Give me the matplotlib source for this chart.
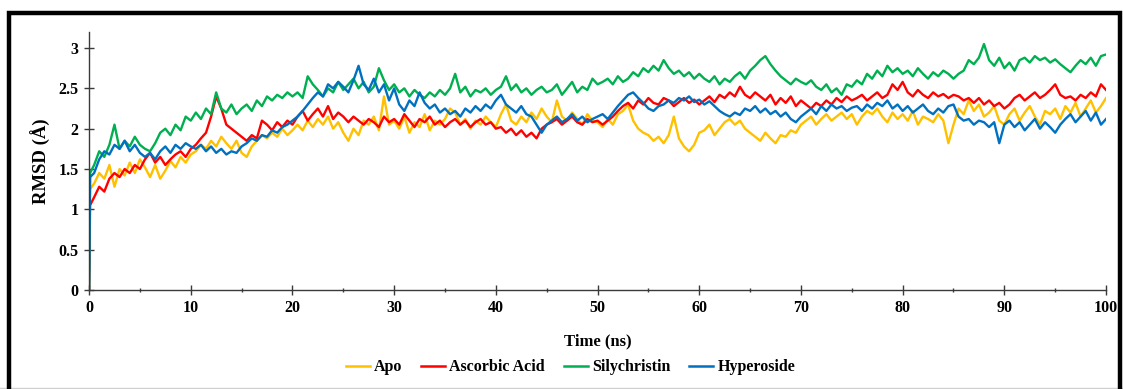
import numpy as np
import matplotlib
matplotlib.use("Agg")
from matplotlib import pyplot as plt
from matplotlib.patches import Rectangle
from matplotlib.lines import Line2D
from matplotlib.ticker import MultipleLocator

plt.rcParams['font.family'] = ['Liberation Serif', 'DejaVu Serif']
plt.rcParams['font.weight'] = 'bold'

# time axis (ns): start, first frame, then every 0.5 ns
time_ns = np.concatenate(([0.0, 0.1], np.arange(0.5, 100.01, 0.5)))

# RMSD values (A)
apo = [0.0, 1.25,
       1.32, 1.45, 1.38, 1.55, 1.28, 1.50, 1.42, 1.58, 1.45, 1.62,
       1.52, 1.40, 1.55, 1.38, 1.48, 1.60, 1.52, 1.65, 1.58, 1.68,
       1.72, 1.80, 1.75, 1.85, 1.78, 1.90, 1.82, 1.75, 1.85, 1.70,
       1.65, 1.78, 1.85, 1.92, 1.88, 1.95, 1.90, 2.00, 1.92, 1.98,
       2.05, 1.98, 2.10, 2.02, 2.12, 2.05, 2.15, 2.00, 2.08, 1.95,
       1.85, 2.00, 1.92, 2.10, 2.05, 2.15, 1.98, 2.40, 2.05, 2.10,
       2.00, 2.15, 1.95, 2.08, 2.02, 2.18, 1.98, 2.10, 2.05, 2.12,
       2.25, 2.20, 2.05, 2.12, 2.00, 2.10, 2.05, 2.15, 2.08, 2.02,
       2.18, 2.30, 2.10, 2.05, 2.15, 2.08, 2.20, 2.12, 2.25, 2.15,
       2.08, 2.35, 2.15, 2.10, 2.20, 2.12, 2.05, 2.18, 2.10, 2.08,
       2.02, 2.12, 2.05, 2.18, 2.22, 2.30, 2.10, 2.00, 1.95, 1.92,
       1.85, 1.90, 1.82, 1.92, 2.15, 1.88, 1.78, 1.72, 1.80, 1.95,
       1.98, 2.05, 1.92, 2.00, 2.08, 2.12, 2.05, 2.10, 2.00, 1.95,
       1.90, 1.85, 1.95, 1.88, 1.82, 1.92, 1.90, 1.98, 1.95, 2.05,
       2.10, 2.15, 2.05, 2.12, 2.18, 2.10, 2.15, 2.20, 2.12, 2.18,
       2.05, 2.15, 2.22, 2.18, 2.25, 2.15, 2.08, 2.20, 2.12, 2.18,
       2.10, 2.22, 2.05, 2.15, 2.12, 2.08, 2.18, 2.10, 1.82, 2.05,
       2.25, 2.18, 2.35, 2.22, 2.30, 2.15, 2.20, 2.28, 2.10, 2.05,
       2.18, 2.25, 2.10, 2.20, 2.28, 2.15, 2.05, 2.22, 2.18, 2.25,
       2.12, 2.28, 2.20, 2.32, 2.15, 2.25, 2.35, 2.20, 2.28, 2.38]

ascorbic = [0.0, 1.05,
            1.15, 1.28, 1.22, 1.38, 1.45, 1.40, 1.50, 1.45, 1.55, 1.50,
            1.62, 1.70, 1.58, 1.65, 1.55, 1.62, 1.68, 1.72, 1.65, 1.75,
            1.80, 1.88, 1.95, 2.15, 2.40, 2.25, 2.05, 2.00, 1.95, 1.90,
            1.85, 1.92, 1.88, 2.10, 2.05, 1.98, 2.08, 2.02, 2.10, 2.05,
            2.15, 2.22, 2.10, 2.18, 2.25, 2.15, 2.28, 2.12, 2.20, 2.15,
            2.08, 2.15, 2.10, 2.05, 2.12, 2.08, 2.02, 2.15, 2.08, 2.12,
            2.05, 2.18, 2.10, 2.02, 2.12, 2.08, 2.15, 2.05, 2.10, 2.02,
            2.08, 2.12, 2.05, 2.10, 2.02, 2.08, 2.12, 2.05, 2.08, 2.00,
            2.02, 1.95, 2.00, 1.92, 1.98, 1.90, 1.95, 1.88, 2.00, 2.05,
            2.08, 2.12, 2.05, 2.10, 2.15, 2.08, 2.05, 2.12, 2.08, 2.10,
            2.05, 2.10, 2.15, 2.22, 2.28, 2.32, 2.25, 2.35, 2.30, 2.38,
            2.32, 2.30, 2.38, 2.35, 2.28, 2.33, 2.38, 2.32, 2.36, 2.30,
            2.35, 2.40, 2.33, 2.42, 2.38, 2.45, 2.40, 2.52, 2.42, 2.38,
            2.45, 2.40, 2.35, 2.42, 2.30, 2.38, 2.32, 2.40, 2.28, 2.35,
            2.30, 2.25, 2.32, 2.28, 2.35, 2.30, 2.38, 2.33, 2.40, 2.35,
            2.38, 2.42, 2.35, 2.40, 2.45, 2.38, 2.42, 2.55, 2.48, 2.58,
            2.45, 2.40, 2.48, 2.42, 2.38, 2.45, 2.40, 2.43, 2.38, 2.42,
            2.40, 2.35, 2.38, 2.32, 2.38, 2.30, 2.35, 2.28, 2.32, 2.25,
            2.30, 2.38, 2.42, 2.35, 2.40, 2.45, 2.38, 2.42, 2.48, 2.55,
            2.42, 2.38, 2.40, 2.35, 2.42, 2.38, 2.45, 2.40, 2.55, 2.48]

silychristin = [0.0, 1.45,
                1.55, 1.72, 1.65, 1.80, 2.05, 1.75, 1.85, 1.78, 1.90, 1.80,
                1.75, 1.72, 1.82, 1.95, 2.00, 1.92, 2.05, 1.98, 2.15, 2.10,
                2.20, 2.12, 2.25, 2.18, 2.45, 2.25, 2.20, 2.30, 2.18, 2.25,
                2.30, 2.22, 2.35, 2.28, 2.40, 2.35, 2.42, 2.38, 2.45, 2.40,
                2.45, 2.38, 2.65, 2.55, 2.48, 2.40, 2.50, 2.45, 2.58, 2.48,
                2.55, 2.62, 2.50, 2.58, 2.45, 2.52, 2.75, 2.60, 2.48, 2.55,
                2.45, 2.50, 2.40, 2.48, 2.42, 2.38, 2.45, 2.40, 2.48, 2.42,
                2.50, 2.68, 2.45, 2.52, 2.40, 2.48, 2.45, 2.50, 2.42, 2.48,
                2.52, 2.65, 2.48, 2.55, 2.45, 2.50, 2.42, 2.48, 2.52, 2.45,
                2.48, 2.55, 2.42, 2.50, 2.58, 2.45, 2.52, 2.48, 2.62, 2.55,
                2.58, 2.62, 2.55, 2.65, 2.58, 2.62, 2.70, 2.65, 2.75, 2.70,
                2.78, 2.72, 2.85, 2.75, 2.68, 2.72, 2.65, 2.70, 2.62, 2.68,
                2.62, 2.58, 2.65, 2.55, 2.62, 2.58, 2.65, 2.70, 2.62, 2.72,
                2.78, 2.85, 2.90, 2.80, 2.72, 2.65, 2.60, 2.55, 2.62, 2.58,
                2.55, 2.60, 2.52, 2.48, 2.55, 2.45, 2.50, 2.42, 2.55, 2.52,
                2.60, 2.55, 2.68, 2.62, 2.72, 2.65, 2.78, 2.70, 2.75, 2.68,
                2.72, 2.65, 2.75, 2.68, 2.62, 2.70, 2.65, 2.72, 2.68, 2.62,
                2.68, 2.72, 2.85, 2.80, 2.88, 3.05, 2.85, 2.78, 2.88, 2.75,
                2.82, 2.72, 2.85, 2.88, 2.82, 2.90, 2.85, 2.88, 2.82, 2.86,
                2.80, 2.75, 2.70, 2.78, 2.85, 2.80, 2.88, 2.78, 2.90, 2.92]

hyperoside = [0.0, 1.40,
              1.45, 1.62, 1.72, 1.68, 1.80, 1.75, 1.85, 1.72, 1.80, 1.70,
              1.65, 1.70, 1.62, 1.72, 1.78, 1.70, 1.80, 1.75, 1.82, 1.78,
              1.75, 1.80, 1.72, 1.78, 1.70, 1.75, 1.68, 1.72, 1.70, 1.78,
              1.82, 1.88, 1.85, 1.92, 1.90, 1.98, 1.95, 2.02, 2.05, 2.10,
              2.15, 2.22, 2.30, 2.38, 2.45, 2.40, 2.55, 2.50, 2.58, 2.52,
              2.45, 2.60, 2.78, 2.55, 2.48, 2.62, 2.45, 2.55, 2.35, 2.50,
              2.30, 2.22, 2.35, 2.28, 2.45, 2.32, 2.25, 2.30, 2.20, 2.25,
              2.18, 2.22, 2.15, 2.25, 2.20, 2.28, 2.22, 2.30, 2.25, 2.35,
              2.42, 2.30, 2.25, 2.20, 2.28, 2.18, 2.15, 2.05, 1.95, 2.05,
              2.10, 2.15, 2.08, 2.12, 2.18, 2.10, 2.15, 2.08, 2.12, 2.15,
              2.18, 2.12, 2.20, 2.28, 2.35, 2.42, 2.45, 2.38, 2.32, 2.25,
              2.22, 2.28, 2.30, 2.35, 2.32, 2.38, 2.35, 2.40, 2.33, 2.36,
              2.30, 2.34, 2.28, 2.22, 2.18, 2.15, 2.20, 2.17, 2.25, 2.22,
              2.28, 2.20, 2.25, 2.18, 2.22, 2.15, 2.20, 2.12, 2.08, 2.15,
              2.20, 2.25, 2.18, 2.28, 2.22, 2.30, 2.25, 2.28, 2.22, 2.26,
              2.28, 2.22, 2.30, 2.25, 2.32, 2.28, 2.35, 2.25, 2.30, 2.22,
              2.28, 2.20, 2.25, 2.30, 2.22, 2.18, 2.25, 2.20, 2.28, 2.30,
              2.15, 2.10, 2.12, 2.05, 2.10, 2.08, 2.02, 2.08, 1.82, 2.05,
              2.10, 2.02, 2.08, 1.98, 2.05, 2.12, 2.00, 2.08, 2.02, 1.95,
              2.05, 2.12, 2.18, 2.08, 2.15, 2.22, 2.10, 2.20, 2.05, 2.12]

labels = ["Apo", "Ascorbic Acid", "Silychristin", "Hyperoside"]
colors = ["#FFC000", "#FF0000", "#00B050", "#0070C0"]
series = [apo, ascorbic, silychristin, hyperoside]

fig = plt.figure(figsize=(11.23, 3.89), dpi=100)
ax = fig.add_axes([0.0793, 0.2545, 0.9056, 0.6635])

for vals, lab, col in zip(series, labels, colors):
    ax.plot(time_ns, vals, color=col, lw=1.7, label=lab)

ax.set_xlim(0, 100)
ax.set_ylim(0, 3.2)
ax.xaxis.set_major_locator(MultipleLocator(10))
ax.xaxis.set_minor_locator(MultipleLocator(5))
ax.set_yticks([0, 0.5, 1, 1.5, 2, 2.5, 3])
ax.set_yticklabels(["0", "0.5", "1", "1.5", "2", "2.5", "3"])

for s in ["top", "right"]:
    ax.spines[s].set_visible(False)
for s in ["left", "bottom"]:
    ax.spines[s].set_color("#3a3a3a")
    ax.spines[s].set_linewidth(1.0)

ax.tick_params(axis="both", which="major", direction="inout", length=7,
               width=1.0, color="#3a3a3a", labelsize=11.5, pad=4)
ax.tick_params(axis="x", which="minor", direction="inout", length=3,
               width=1.0, color="#3a3a3a")
for t in ax.get_xticklabels() + ax.get_yticklabels():
    t.set_fontweight("bold")

ax.set_xlabel("Time (ns)", fontsize=12, fontweight="bold", labelpad=12)
ax.set_ylabel("RMSD (Å)", fontsize=13.5, fontweight="bold", labelpad=5)

handles = [Line2D([], [], color=c, lw=1.8) for c in colors]
fig.legend(handles, labels, loc="center", bbox_to_anchor=(0.508, 0.056),
           ncol=4, frameon=False, handlelength=1.5,
           handletextpad=0.25, columnspacing=1.2, prop={"weight": "bold", "size": 11.5})

# outer black frame (bottom edge runs off the image)
fig.patches.append(Rectangle((9 / 1123, -0.05), 1111 / 1123, 1 - 12.5 / 389 + 0.05,
                             transform=fig.transFigure, fill=False,
                             edgecolor="black", lw=3.2, zorder=10))
fig.add_artist(Line2D([0, 1], [1.5 / 389, 1.5 / 389], transform=fig.transFigure,
                      color="#d0d0d0", lw=1.0))

fig.savefig("out.png", dpi=100)
